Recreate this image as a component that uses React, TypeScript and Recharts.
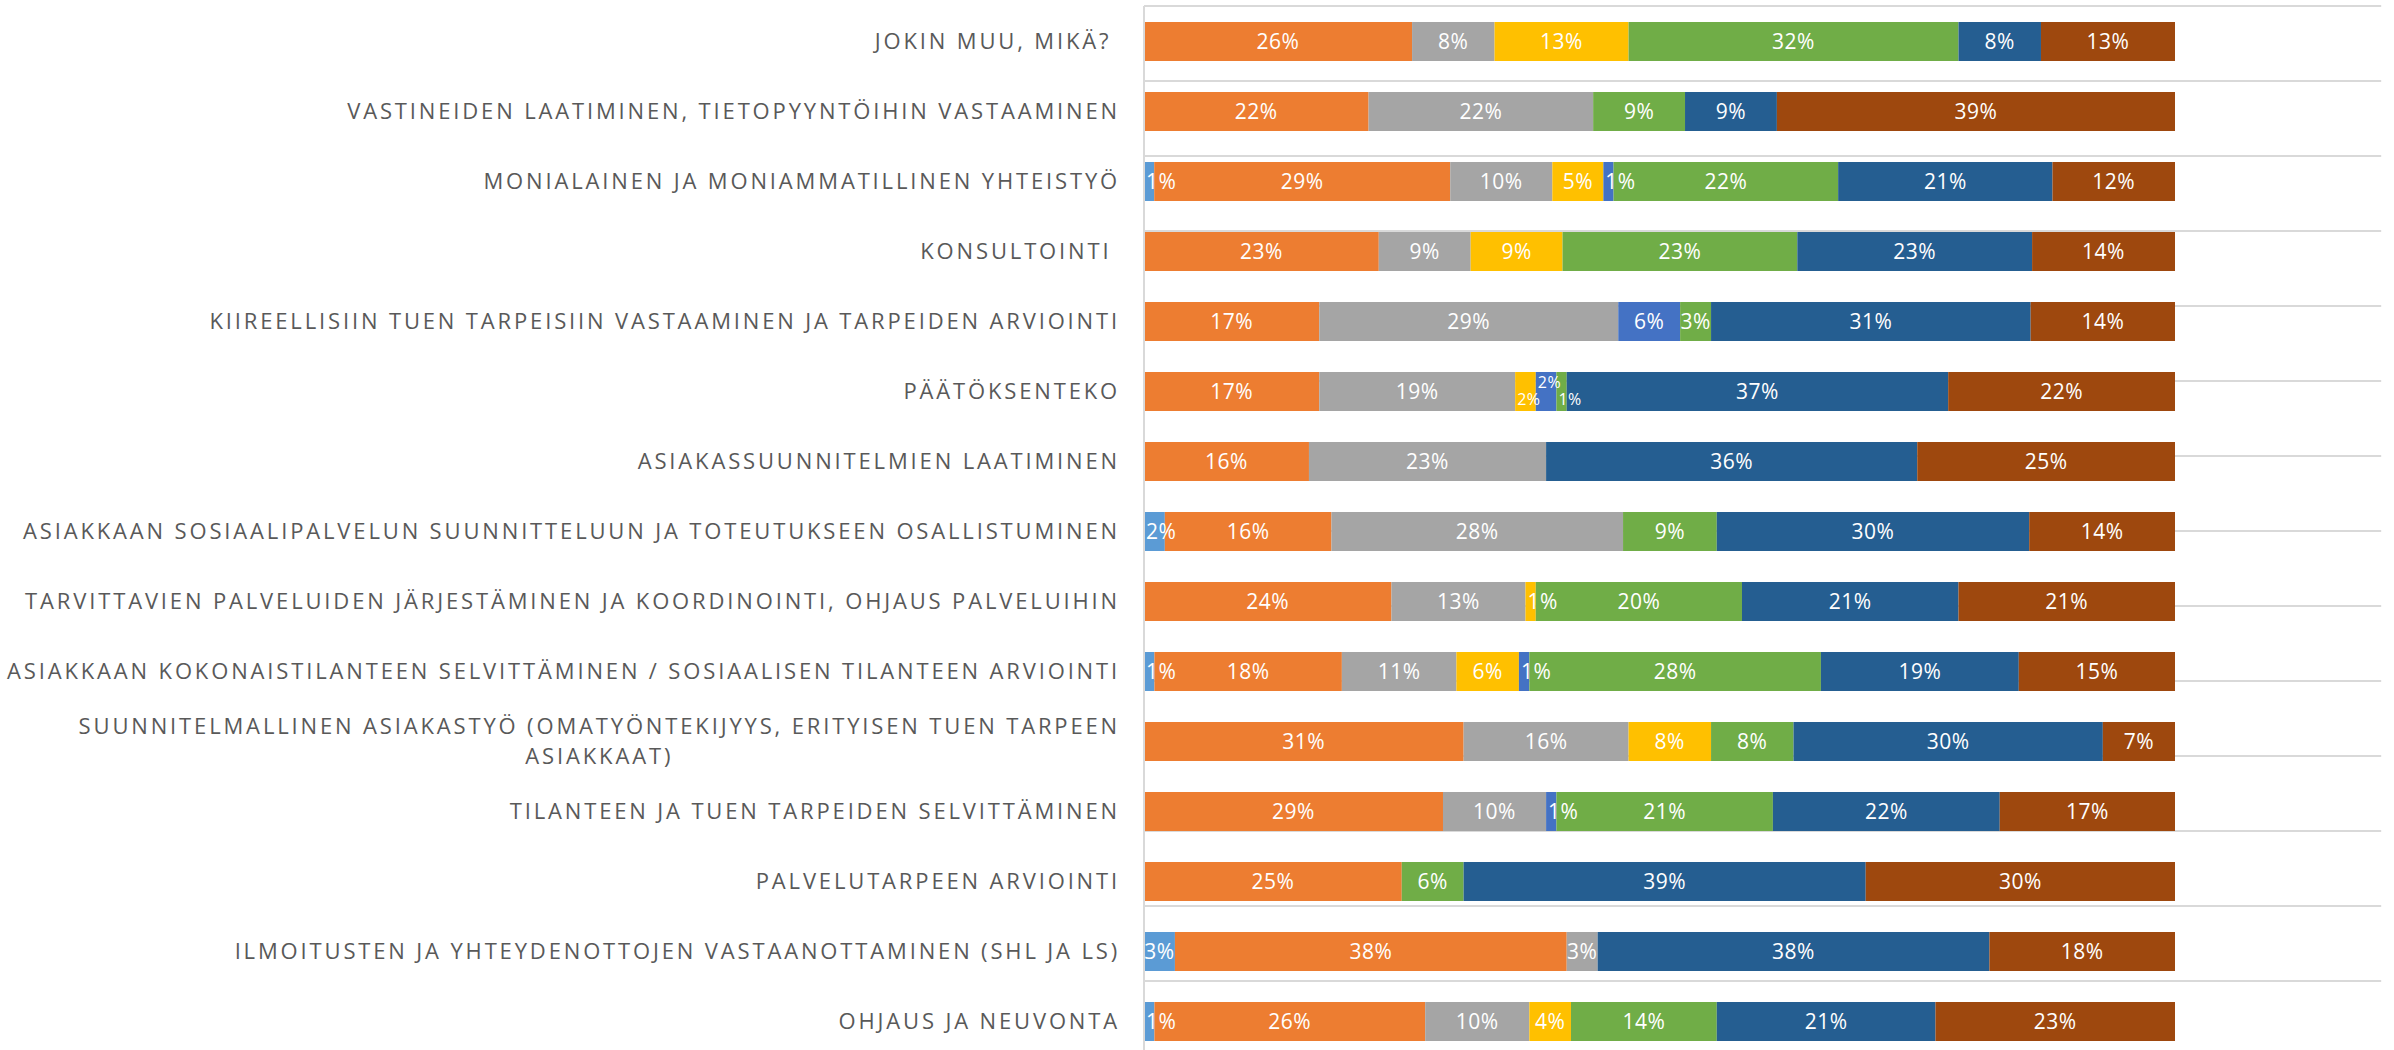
import { BarChart, Bar, XAxis, YAxis, CartesianGrid, LabelList } from "recharts";

// rivit ylhäältä alas
const categories = [
  "JOKIN MUU, MIKÄ? ",
  "VASTINEIDEN LAATIMINEN, TIETOPYYNTÖIHIN VASTAAMINEN",
  "MONIALAINEN JA MONIAMMATILLINEN YHTEISTYÖ",
  "KONSULTOINTI ",
  "KIIREELLISIIN TUEN TARPEISIIN VASTAAMINEN JA TARPEIDEN ARVIOINTI",
  "PÄÄTÖKSENTEKO",
  "ASIAKASSUUNNITELMIEN LAATIMINEN",
  "ASIAKKAAN SOSIAALIPALVELUN SUUNNITTELUUN JA TOTEUTUKSEEN OSALLISTUMINEN",
  "TARVITTAVIEN PALVELUIDEN JÄRJESTÄMINEN JA KOORDINOINTI, OHJAUS PALVELUIHIN",
  "ASIAKKAAN KOKONAISTILANTEEN SELVITTÄMINEN / SOSIAALISEN TILANTEEN ARVIOINTI",
  "SUUNNITELMALLINEN ASIAKASTYÖ (OMATYÖNTEKIJYYS, ERITYISEN TUEN TARPEEN ASIAKKAAT)",
  "TILANTEEN JA TUEN TARPEIDEN SELVITTÄMINEN",
  "PALVELUTARPEEN ARVIOINTI",
  "ILMOITUSTEN JA YHTEYDENOTTOJEN VASTAANOTTAMINEN (SHL JA LS)",
  "OHJAUS JA NEUVONTA",
];

// osuudet prosentteina, sarjat vasemmalta oikealle
const sarja1 = [0, 0, 1, 0, 0, 0, 0, 2, 0, 1, 0, 0, 0, 3, 1];
const sarja2 = [26, 22, 29, 23, 17, 17, 16, 16, 24, 18, 31, 29, 25, 38, 26];
const sarja3 = [8, 22, 10, 9, 29, 19, 23, 28, 13, 11, 16, 10, 0, 3, 10];
const sarja4 = [13, 0, 5, 9, 0, 2, 0, 0, 1, 6, 8, 0, 0, 0, 4];
const sarja5 = [0, 0, 1, 0, 6, 2, 0, 0, 0, 1, 0, 1, 0, 0, 0];
const sarja6 = [32, 9, 22, 23, 3, 1, 0, 9, 20, 28, 8, 21, 6, 0, 14];
const sarja7 = [8, 9, 21, 23, 31, 37, 36, 30, 21, 19, 30, 22, 39, 38, 21];
const sarja8 = [13, 39, 12, 14, 14, 22, 25, 14, 21, 15, 7, 17, 30, 18, 23];

const series = [
  { key: "s1", values: sarja1, color: "#5B9BD5" },
  { key: "s2", values: sarja2, color: "#ED7D31" },
  { key: "s3", values: sarja3, color: "#A5A5A5" },
  { key: "s4", values: sarja4, color: "#FFC000" },
  { key: "s5", values: sarja5, color: "#4472C4" },
  { key: "s6", values: sarja6, color: "#70AD47" },
  { key: "s7", values: sarja7, color: "#255E91" },
  { key: "s8", values: sarja8, color: "#9E480E" },
];

const data = categories.map((name, i) => {
  const row: Record<string, string | number> = { name };
  series.forEach((s) => (row[s.key] = s.values[i]));
  return row;
});

const rowLines = [...categories.map((_, i) => i), categories.length];

const FONT = "'Open Sans', sans-serif";
const CAT_SIZE = 22;
const CAT_SPACING = 2.85;
const CAT_WEIGHT = 400;
const VAL_SIZE = 21;
const VAL_SIZE_SMALL = 16;
const VAL_SPACING = 0.5;

let ctx: CanvasRenderingContext2D | null = null;
const measure = (text: string, size: number, weight: number, spacing: number) => {
  if (!ctx) ctx = document.createElement("canvas").getContext("2d");
  if (!ctx) return text.length * size * 0.6;
  ctx.font = `${weight} ${size}px 'Open Sans'`;
  (ctx as any).letterSpacing = `${spacing}px`;
  return ctx.measureText(text).width;
};

const wrap = (text: string, max: number) => {
  if (text.length <= max) return [text];
  const words = text.split(" ");
  const lines: string[] = [];
  let cur = "";
  words.forEach((w) => {
    const next = cur ? cur + " " + w : w;
    if (next.length > max && cur) {
      lines.push(cur);
      cur = w;
    } else cur = next;
  });
  if (cur) lines.push(cur);
  return lines;
};

const CategoryTick = (props: any) => {
  const { x, y, payload } = props;
  const lines = wrap(payload.value, 78);
  const style: any = {
    fontFamily: FONT,
    fontSize: CAT_SIZE,
    fontWeight: CAT_WEIGHT,
    letterSpacing: CAT_SPACING,
    whiteSpace: "pre",
  };
  const lineH = 30;
  const firstW = measure(lines[0], CAT_SIZE, CAT_WEIGHT, CAT_SPACING);
  return (
    <g>
      {lines.map((l, i) => (
        <text
          key={i}
          x={i === 0 ? x : x - firstW / 2}
          y={y + (i - (lines.length - 1) / 2) * lineH}
          dy={8}
          textAnchor={i === 0 ? "end" : "middle"}
          fill="#595959"
          style={style}
        >
          {l}
        </text>
      ))}
    </g>
  );
};

// pienet vierekkäiset osuudet (esim. 2% 2% 1%) porrastetaan pystysuunnassa
const isSmall = (v: number) => v > 0 && v <= 2;
const crowdPos = (si: number, row: number) => {
  const v = series[si].values[row];
  if (!isSmall(v)) return -1;
  const nz = series.map((s, j) => ({ j, v: s.values[row] })).filter((o) => o.v > 0);
  const k = nz.findIndex((o) => o.j === si);
  const prev = nz[k - 1];
  const next = nz[k + 1];
  if (!((prev && isSmall(prev.v)) || (next && isSmall(next.v)))) return -1;
  let pos = 0;
  for (let m = k - 1; m >= 0 && isSmall(nz[m].v); m--) pos++;
  return pos;
};

const rowOf = (entry: any) => {
  const name = entry?.payload?.name;
  return name != null ? categories.indexOf(name) : -1;
};

const makeLabel = (si: number) => (p: any) => {
  const row = p.value;
  if (typeof row !== "number" || row < 0) return null;
  const v = series[si].values[row];
  if (!v) return null;
  const vb = p.viewBox || p;
  const { x, y, width, height } = vb;
  const text = `${v}%`;
  const pos = crowdPos(si, row);
  const size = pos >= 0 ? VAL_SIZE_SMALL : VAL_SIZE;
  const tw = measure(text, size, 400, VAL_SPACING);
  const narrow = tw > width;
  const dy = pos < 0 ? 0 : pos % 2 === 0 ? 8 : -9;
  return (
    <text
      x={narrow ? x + 2 : x + width / 2}
      y={y + height / 2 + dy}
      dy="0.36em"
      textAnchor={narrow ? "start" : "middle"}
      fill="#ffffff"
      style={{ fontFamily: FONT, fontSize: size, letterSpacing: VAL_SPACING }}
    >
      {text}
    </text>
  );
};

// vaakaviivat jatkuvat palkkien loppupään yli kuten alkuperäisessä
const gridLine = (p: any) => {
  const extra = (p.x2 - p.x1) * 0.2;
  return (
    <line
      key={p.key}
      x1={p.x1}
      y1={p.y1}
      x2={p.x2 + extra}
      y2={p.y2}
      stroke="#D9D9D9"
      strokeWidth={2}
      fill="none"
    />
  );
};

export default function App() {
  return (
    <div
      style={{
        position: "absolute",
        left: 0,
        top: 0,
        width: 2394,
        height: 1050,
        overflow: "hidden",
        background: "#fff",
      }}
    >
      <BarChart
        width={2394}
        height={1060}
        data={data}
        layout="vertical"
        stackOffset="expand"
        barSize={39}
        margin={{ top: 6, right: 219, bottom: 4, left: 0 }}
      >
        <CartesianGrid yAxisId="rows" vertical={false} horizontal={gridLine} />
        <XAxis type="number" domain={[0, 1]} hide />
        <YAxis
          type="category"
          dataKey="name"
          width={1144}
          axisLine={{ stroke: "#D9D9D9", strokeWidth: 2 }}
          tickLine={false}
          tickSize={0}
          tickMargin={24}
          interval={0}
          tick={<CategoryTick />}
        />
        <YAxis yAxisId="rows" type="number" domain={[0, categories.length]} ticks={rowLines} hide />
        {series.map((s, si) => (
          <Bar key={s.key} dataKey={s.key} stackId="a" fill={s.color} isAnimationActive={false}>
            <LabelList valueAccessor={rowOf} position="center" content={makeLabel(si)} />
          </Bar>
        ))}
      </BarChart>
    </div>
  );
}
